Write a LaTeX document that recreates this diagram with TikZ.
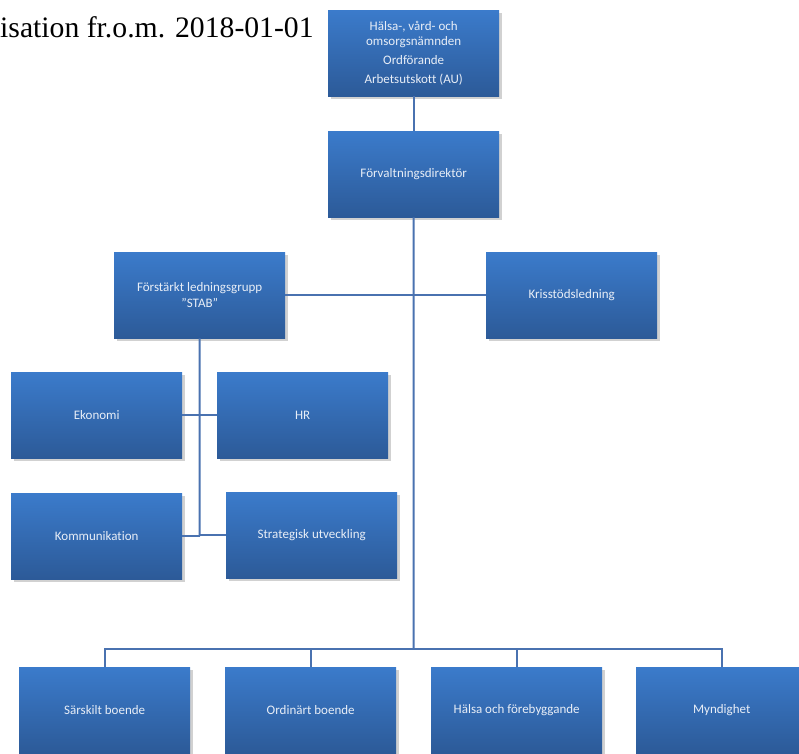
\documentclass[tikz,border=0pt]{standalone}
\usepackage{fontspec}
\setmainfont{Carlito}[Ligatures=NoCommon]
\newfontfamily\titlefont{Liberation Serif}
\usetikzlibrary{shadows}
\definecolor{boxtop}{RGB}{59,123,203}
\definecolor{boxbot}{RGB}{44,90,152}
\definecolor{linecol}{RGB}{74,114,176}
\definecolor{txtcol}{RGB}{232,238,247}
\tikzset{
  orgbox/.style={rectangle, anchor=north west, minimum width=171pt, minimum height=86pt,
    top color=boxtop, bottom color=boxbot, draw=none, text=txtcol, align=center,
    font=\fontsize{13}{15.5}\selectfont, inner sep=2pt,
    drop shadow={shadow xshift=3pt, shadow yshift=-3pt, fill=black!40, opacity=0.45}},
  conn/.style={draw=linecol, line width=2pt},
  thin conn/.style={draw=linecol, line width=1.6pt}
}
\begin{document}
\begin{tikzpicture}[x=1pt,y=-1pt]
\useasboundingbox (0,0) rectangle (799,753);
\clip (0,0) rectangle (799,753);
\fill[white] (0,0) rectangle (799,753);
\node[anchor=base west, inner sep=0pt, font=\titlefont\fontsize{29.7}{31}\selectfont] (title) at (0,37) {isation fr.o.m. 2018-01-01};
\node[orgbox] (top) at (328,10) {Hälsa-, vård- och\\omsorgsnämnden\\[3pt]Ordförande\\[3.5pt]Arbetsutskott (AU)};
\node[orgbox] (dir) at (328,131) {Förvaltningsdirektör};
\node[orgbox] (stab) at (114,252) {Förstärkt ledningsgrupp\\\char34 STAB\char34};
\node[orgbox] (kris) at (486,252) {Krisstödsledning};
\node[orgbox] (eko) at (11,372) {Ekonomi};
\node[orgbox] (hr) at (217,372) {HR};
\node[orgbox] (kom) at (11,493) {Kommunikation};
\node[orgbox] (strat) at (226,492) {Strategisk utveckling};
\node[orgbox] (b1) at (19,667) {Särskilt boende};
\node[orgbox] (b2) at (225,667) {Ordinärt boende};
\node[orgbox] (b3) at (431,667) {Hälsa och förebyggande};
\node[orgbox] (b4) at (636,667) {Myndighet};
\coordinate (bus) at (413.5,649);
\coordinate (s2) at (199.5,536);
\draw[conn] (top.south) -- (dir.north);
\draw[conn] (dir.south) -- (bus);
\draw[thin conn] (stab.east) -- (kris.west);
\draw[conn] (stab.south) -- (s2);
\draw[thin conn] (eko.east) -- (hr.west);
\draw[thin conn] (kom.east) -- (kom.east -| s2);
\draw[thin conn] (strat.west) -- (strat.west -| s2);
\draw[thin conn] (b1.north) |- (bus);
\draw[thin conn] (b2.north) |- (bus);
\draw[thin conn] (b3.north) |- (bus);
\draw[thin conn] (b4.north) |- (bus);
\end{tikzpicture}
\end{document}
